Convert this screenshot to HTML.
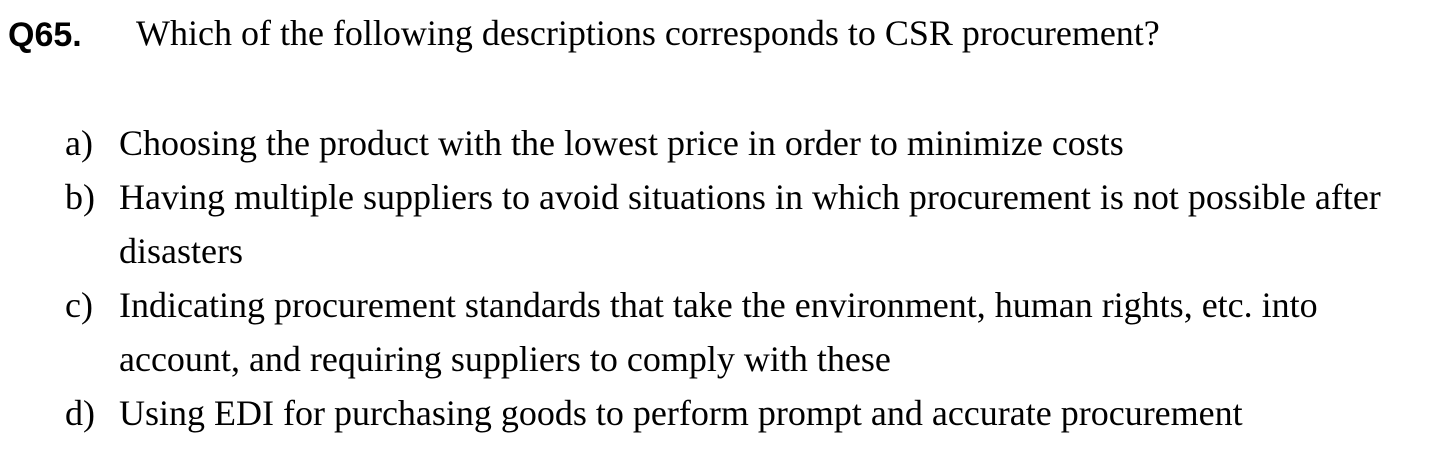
<!DOCTYPE html>
<html><head><meta charset="utf-8"><style>
html,body{margin:0;padding:0;background:#fff;}
body{width:1450px;height:460px;position:relative;overflow:hidden;color:#000;}
.s{position:absolute;font-family:"Liberation Serif",serif;font-size:36px;line-height:54px;white-space:nowrap;}
.q{position:absolute;font-family:"Liberation Sans",sans-serif;font-weight:bold;font-size:34px;line-height:54px;left:8px;top:8px;}
</style></head><body>
<div class="q">Q65.</div>
<div class="s" style="left:136px;top:6px">Which of the following descriptions corresponds to CSR procurement?</div>

<div class="s" style="left:65px;top:116px">a)</div>
<div class="s" style="left:119px;top:116px">Choosing the product with the lowest price in order to minimize costs</div>

<div class="s" style="left:65px;top:170px">b)</div>
<div class="s" style="left:119px;top:170px">Having multiple suppliers to avoid situations in which procurement is not possible after</div>
<div class="s" style="left:119px;top:224px">disasters</div>

<div class="s" style="left:65px;top:278px">c)</div>
<div class="s" style="left:119px;top:278px">Indicating procurement standards that take the environment, human rights, etc. into</div>
<div class="s" style="left:119px;top:332px">account, and requiring suppliers to comply with these</div>

<div class="s" style="left:65px;top:386px">d)</div>
<div class="s" style="left:119px;top:386px">Using EDI for purchasing goods to perform prompt and accurate procurement</div>
</body></html>
